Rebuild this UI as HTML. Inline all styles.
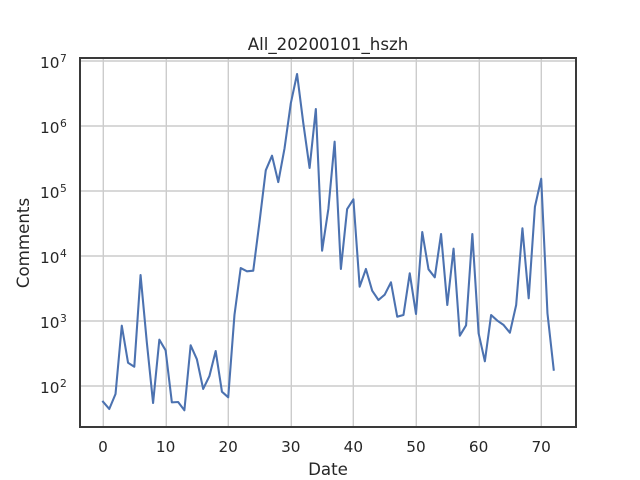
<!DOCTYPE html>
<html>
<head>
<meta charset="utf-8">
<title>All_20200101_hszh</title>
<style>
html,body{margin:0;padding:0;background:#fff;}
svg{display:block;}
text{font-family:"DejaVu Sans","Liberation Sans",sans-serif;fill:#262626;}
</style>
</head>
<body>
<svg id="chart" xmlns="http://www.w3.org/2000/svg" width="640" height="480" viewBox="0 0 640 480">
  <rect x="0" y="0" width="640" height="480" fill="#ffffff"/>
  <g id="grid"></g>
  <g id="series"></g>
  <rect x="80" y="58" width="496" height="369" fill="none" stroke="#3a3a3a" stroke-width="2"/>
  <g id="xticks"></g>
  <g id="yticks"></g>
  <text x="328" y="50" text-anchor="middle" font-size="16.67">All_20200101_hszh</text>
  <text x="328" y="475" text-anchor="middle" font-size="16.67">Date</text>
  <text transform="translate(29,243) rotate(-90)" text-anchor="middle" font-size="16.67">Comments</text>
</svg>
<script>
const xTickValues = [0, 10, 20, 30, 40, 50, 60, 70];
const yTickExponents = [2, 3, 4, 5, 6, 7];
const comments = [
  57.3, 44.3, 75.3, 847, 228, 198, 5100, 470, 54.8, 516,
  354, 56, 56.7, 42.3, 423, 257, 90, 142, 345, 81.7,
  67, 1237, 6530, 5820, 5940, 33300, 208000, 349000, 137000, 454000,
  2234000, 6310000, 1100000, 226000, 1827000, 12070, 52800, 573000, 6310, 52800,
  74500, 3370, 6310, 2925, 2105, 2540, 3940, 1165, 1237, 5420,
  1281, 23400, 6240, 4700, 21800, 1762, 12950, 594, 859, 21800,
  647, 240, 1237, 1011, 867, 661, 1762, 26700, 2234, 57300,
  154500, 1313, 178
];

const NS = 'http://www.w3.org/2000/svg';
function xScale(v) { return 103 + v * 6.26; }
function yScale(v) { return 386 - (Math.log10(v) - 2) * 65; }
function make(tag, attrs) {
  const el = document.createElementNS(NS, tag);
  for (const k in attrs) el.setAttribute(k, attrs[k]);
  return el;
}

const gridG = document.getElementById('grid');
const xG = document.getElementById('xticks');
const yG = document.getElementById('yticks');
const seriesG = document.getElementById('series');
const gridStyle = { stroke: '#cccccc', 'stroke-width': 1.4, fill: 'none' };

xTickValues.forEach(function (t) {
  const px = Math.round(xScale(t)) + 0.3;
  const line = make('line', Object.assign({ x1: px, x2: px, y1: 58, y2: 427 }, gridStyle));
  
  
  gridG.appendChild(line);
  const label = make('text', { x: xScale(t), y: 452, 'text-anchor': 'middle', 'font-size': 15.28 });
  label.textContent = String(t);
  
  
  xG.appendChild(label);
});

yTickExponents.forEach(function (e) {
  const py = yScale(Math.pow(10, e));
  const line = make('line', Object.assign({ x1: 80, x2: 576, y1: py, y2: py }, gridStyle));
  
  
  gridG.appendChild(line);
  const label = make('text', { x: 40, y: py + 7, 'font-size': 15.28 });
  
  
  const base = make('tspan', {});
  base.textContent = '10';
  const sup = make('tspan', { dx: 0.5, dy: -6, 'font-size': 10.7 });
  sup.textContent = String(e);
  label.appendChild(base);
  label.appendChild(sup);
  yG.appendChild(label);
});

const points = comments.map(function (v, i) {
  return xScale(i).toFixed(2) + ',' + yScale(v).toFixed(2);
}).join(' ');
const path = make('polyline', {
  points: points,
  fill: 'none',
  stroke: '#4c72b0',
  'stroke-width': 2.08,
  'stroke-linejoin': 'round',
  'stroke-linecap': 'square'
});


seriesG.appendChild(path);
</script>
</body>
</html>
